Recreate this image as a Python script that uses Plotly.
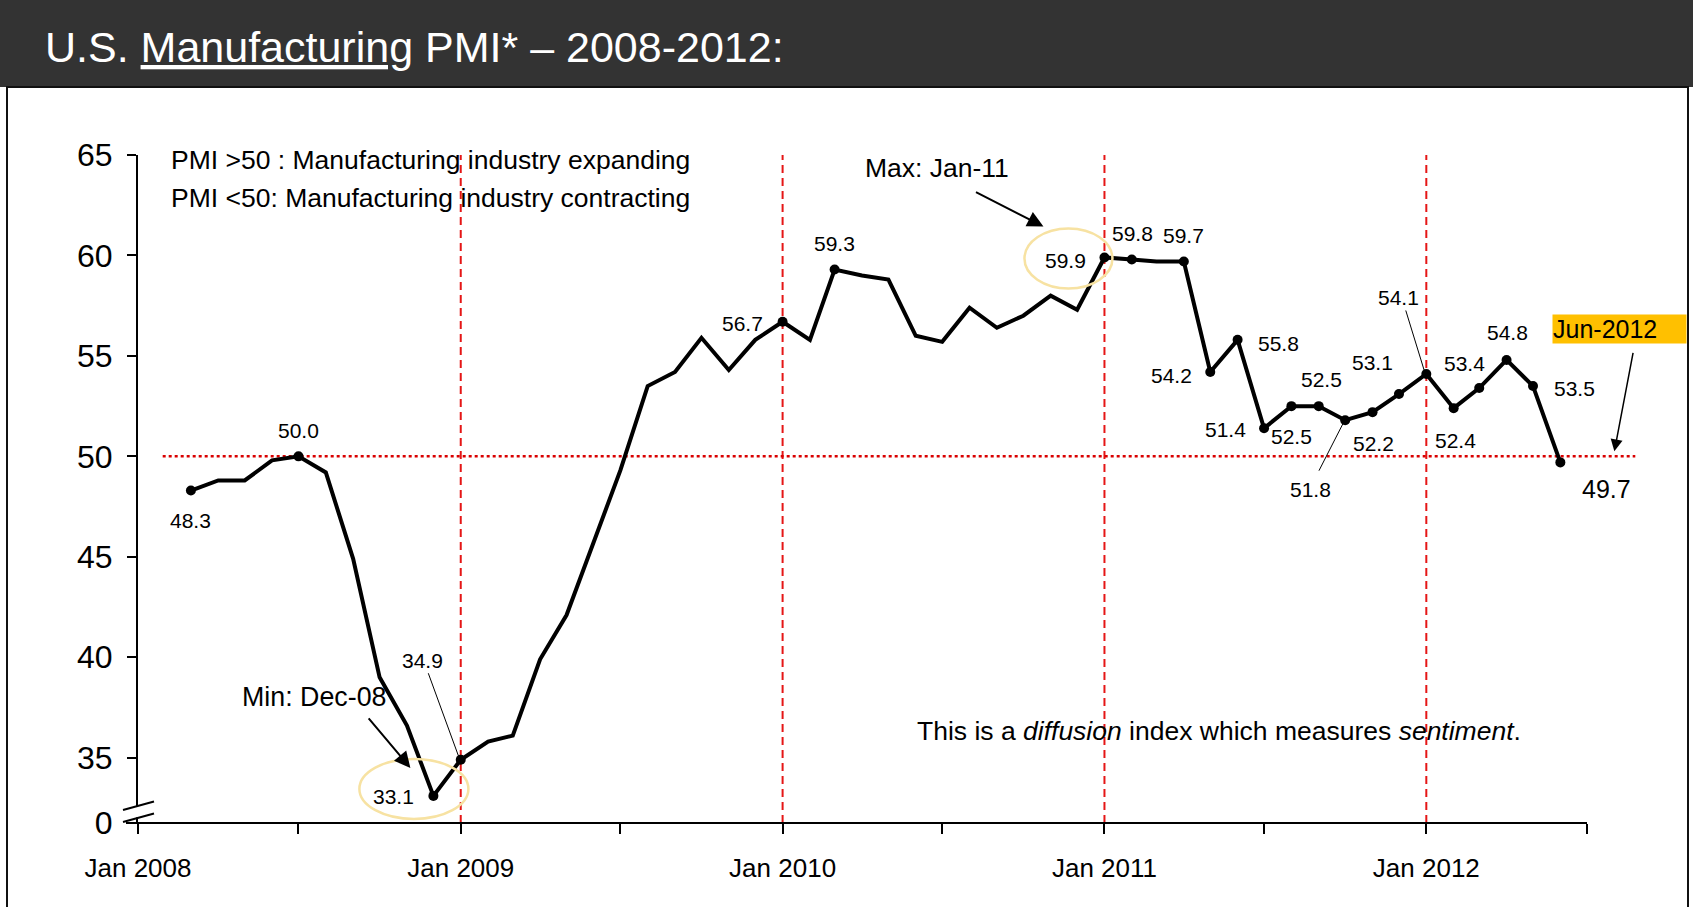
import plotly.graph_objects as go

# ---------------- data ----------------
months = [
    "2008-03", "2008-04", "2008-05", "2008-06", "2008-07", "2008-08", "2008-09", "2008-10", "2008-11", "2008-12",
    "2009-01", "2009-02", "2009-03", "2009-04", "2009-05", "2009-06", "2009-07", "2009-08", "2009-09", "2009-10", "2009-11", "2009-12",
    "2010-01", "2010-02", "2010-03", "2010-04", "2010-05", "2010-06", "2010-07", "2010-08", "2010-09", "2010-10", "2010-11", "2010-12",
    "2011-01", "2011-02", "2011-03", "2011-04", "2011-05", "2011-06", "2011-07", "2011-08", "2011-09", "2011-10", "2011-11", "2011-12",
    "2012-01", "2012-02", "2012-03", "2012-04", "2012-05", "2012-06",
]
pmi = [
    48.3, 48.8, 48.8, 49.8, 50.0, 49.2, 44.9, 39.0, 36.6, 33.1,
    34.9, 35.8, 36.1, 39.9, 42.1, 45.8, 49.3, 53.5, 54.2, 55.9, 54.3, 55.8,
    56.7, 55.8, 59.3, 59.0, 58.8, 56.0, 55.7, 57.4, 56.4, 57.0, 58.0, 57.3,
    59.9, 59.8, 59.7, 59.7, 54.2, 55.8, 51.4, 52.5, 52.5, 51.8, 52.2, 53.1,
    54.1, 52.4, 53.4, 54.8, 53.5, 49.7,
]
marked_months = [
    "2008-03", "2008-07", "2008-12", "2009-01", "2010-01", "2010-03",
    "2011-01", "2011-02", "2011-04", "2011-05", "2011-06", "2011-07", "2011-08", "2011-09",
    "2011-10", "2011-11", "2011-12", "2012-01", "2012-02", "2012-03", "2012-04", "2012-05", "2012-06",
]
year_lines = ["2009-01", "2010-01", "2011-01", "2012-01"]
x_tick_months = ["2008-01", "2008-07", "2009-01", "2009-07", "2010-01", "2010-07",
                 "2011-01", "2011-07", "2012-01", "2012-07"]
x_tick_labels = ["Jan 2008", "", "Jan 2009", "", "Jan 2010", "", "Jan 2011", "", "Jan 2012", ""]
y_break_value = 31.75          # bottom of the broken axis, shown as "0"
y_tick_values = [35, 40, 45, 50, 55, 60, 65]
threshold = 50

title_text = "U.S. <u>Manufacturing</u> PMI* – 2008-2012:"
note_lines = ["PMI >50 : Manufacturing industry expanding",
              "PMI <50: Manufacturing industry contracting"]
footnote = "This is a <i>diffusion</i> index which measures <i>sentiment</i>."

# ---------------- layout geometry (pixels) ----------------
W, H = 1693, 907
L, R, T, B = 138, 48, 155, 84
PW, PH = W - L - R, H - T - B
x_range = ["2008-01-01", "2012-09-05"]
FONT = "Arial, Liberation Sans, sans-serif"


def xp(px):
    return (px - L) / PW


def yp(py):
    return (H - B - py) / PH


val = dict(zip(months, pmi))

fig = go.Figure()
fig.add_trace(go.Scatter(x=months, y=pmi, mode="lines",
                         line=dict(color="black", width=4), hoverinfo="skip"))
fig.add_trace(go.Scatter(x=marked_months, y=[val[m] for m in marked_months], mode="markers",
                         marker=dict(color="black", size=10), hoverinfo="skip"))

shapes = []
# title bar and frame
shapes.append(dict(type="rect", xref="paper", yref="paper", x0=xp(0), x1=xp(W), y0=yp(0), y1=yp(87),
                   fillcolor="#333333", line=dict(width=0), layer="below"))
shapes.append(dict(type="rect", xref="paper", yref="paper", x0=xp(7), x1=xp(1688), y0=yp(87), y1=yp(930),
                   fillcolor="rgba(0,0,0,0)", line=dict(color="#111111", width=2)))
# yearly dashed lines
for m in year_lines:
    shapes.append(dict(type="line", xref="x", yref="y", x0=m, x1=m, y0=y_break_value, y1=65,
                       line=dict(color="#E51616", width=2, dash="8px,5px"), layer="below"))
# 50 threshold line
shapes.append(dict(type="line", xref="x", yref="y", x0="2008-01-29", x1="2012-08-25",
                   y0=threshold, y1=threshold, line=dict(color="#D90000", width=2.5, dash="dot"),
                   layer="below"))
# x axis line
shapes.append(dict(type="line", xref="paper", yref="paper", x0=xp(126), x1=xp(1587),
                   y0=0, y1=0, line=dict(color="black", width=2)))
# axis break marks
shapes.append(dict(type="path", xref="paper", yref="paper",
                   path=f"M {xp(123)} {yp(810)} L {xp(153)} {yp(802)} L {xp(153)} {yp(813)} L {xp(123)} {yp(821)} Z",
                   fillcolor="white", line=dict(width=0), layer="above"))
shapes.append(dict(type="line", xref="paper", yref="paper", x0=xp(123), x1=xp(154), y0=yp(810), y1=yp(801.5),
                   line=dict(color="black", width=2)))
shapes.append(dict(type="line", xref="paper", yref="paper", x0=xp(123), x1=xp(154), y0=yp(822), y1=yp(813.5),
                   line=dict(color="black", width=2)))
# highlight ellipses (pixel-sized, anchored on the min / max points)
for m, x0, x1, y0, y1 in [("2008-12", -74, 35, -23, 37), ("2011-01", -80, 8, -31, 29)]:
    shapes.append(dict(type="circle", xref="x", yref="y", xsizemode="pixel", ysizemode="pixel",
                       xanchor=m, yanchor=val[m], x0=x0, x1=x1, y0=y0, y1=y1,
                       line=dict(color="#F7E2A2", width=2.5)))

annotations = []
# title
annotations.append(dict(text=title_text, xref="paper", yref="paper", x=xp(43), y=yp(47),
                        xanchor="left", yanchor="middle", showarrow=False,
                        font=dict(family=FONT, size=43, color="white")))
for i, t in enumerate(note_lines):
    annotations.append(dict(text=t, xref="paper", yref="paper", x=xp(169), y=yp(160 + 38.5 * i),
                            xanchor="left", yanchor="middle", showarrow=False,
                            font=dict(family=FONT, size=26.5, color="black")))
annotations.append(dict(text=footnote, xref="paper", yref="paper", x=xp(915), y=yp(731),
                        xanchor="left", yanchor="middle", showarrow=False,
                        font=dict(family=FONT, size=26.5, color="black")))
annotations.append(dict(text="Min: Dec-08", xref="paper", yref="paper", x=xp(314), y=yp(697),
                        xanchor="center", yanchor="middle", showarrow=False,
                        font=dict(family=FONT, size=26.8, color="black")))
annotations.append(dict(text="Max: Jan-11", xref="paper", yref="paper", x=xp(937), y=yp(168),
                        xanchor="center", yanchor="middle", showarrow=False,
                        font=dict(family=FONT, size=26.5, color="black")))
annotations.append(dict(text="Jun-2012", xref="paper", yref="paper", x=xp(1552), y=yp(329),
                        xanchor="left", yanchor="middle", showarrow=False, width=133, height=28,
                        align="left", bgcolor="#FFC000", borderpad=0,
                        font=dict(family=FONT, size=25, color="black")))

# data labels: (month, dx, dy, size)
label_pos = [
    ("2008-03", 0, -30, 21), ("2008-07", 0, 26, 21), ("2008-12", -40, -1, 21), ("2009-01", -38, 99, 21),
    ("2010-01", -40, -2, 21), ("2010-03", 0, 26, 21), ("2011-01", -39, -3, 21), ("2011-02", 1, 26, 21),
    ("2011-04", 0, 26, 21), ("2011-05", -39, -4, 21), ("2011-06", 41, -4, 21), ("2011-07", -39, -1, 21),
    ("2011-08", 0, -30, 21), ("2011-09", 3, 27, 21), ("2011-10", -35, -69, 21), ("2011-11", 1, -31, 21),
    ("2011-12", -26, 32, 21), ("2012-01", -28, 76, 21), ("2012-02", 2, -32, 21), ("2012-03", -15, 25, 21),
    ("2012-04", 1, 27, 21), ("2012-05", 41, -2, 21), ("2012-06", 46, -27, 25),
]
for m, dx, dy, sz in label_pos:
    annotations.append(dict(text=f"{val[m]:.1f}", x=m, y=val[m], xref="x", yref="y",
                            xshift=dx, yshift=dy, showarrow=False, xanchor="center", yanchor="middle",
                            font=dict(family=FONT, size=sz, color="black")))

# arrows: (month, yvalue, xshift, yshift, ax, ay, head, width)
arrows = [
    ("2008-12", val["2008-12"], -23, 28, -43, -51, 2, 2),
    ("2011-01", val["2011-01"], -61, 31, -69, -35, 2, 2),
    ("2012-06", threshold, 54, 5, 19, -100, 2, 1.5),
    ("2009-01", val["2009-01"], -2, 3, -31, -85, 0, 1),
    ("2011-10", val["2011-10"], -2, -3, -25, 49, 0, 1),
    ("2012-01", val["2012-01"], -1, 0, -20, -65, 0, 1),
]
for m, yv, dx, dy, ax, ay, head, w in arrows:
    annotations.append(dict(text="", x=m, y=yv, xref="x", yref="y", xshift=dx, yshift=dy,
                            showarrow=True, ax=ax, ay=ay, axref="pixel", ayref="pixel",
                            arrowhead=head, arrowsize=1.6 if head else 1, arrowwidth=w,
                            arrowcolor="black", standoff=0, startstandoff=0))

fig.update_layout(
    template="none",
    width=W, height=H, autosize=False,
    margin=dict(l=L, r=R, t=T, b=B, pad=0),
    paper_bgcolor="white", plot_bgcolor="white",
    showlegend=False, hovermode=False,
    shapes=shapes, annotations=annotations,
    font=dict(family=FONT, color="black"),
    xaxis=dict(type="date", range=x_range, showgrid=False, zeroline=False, showline=False,
               tickmode="array", tickvals=x_tick_months, ticktext=x_tick_labels,
               ticks="outside", ticklen=10, tickwidth=2, tickcolor="black",
               ticklabelstandoff=12, tickfont=dict(family=FONT, size=26, color="black"),
               automargin=False, fixedrange=True),
    yaxis=dict(range=[y_break_value, 65], showgrid=False, zeroline=False, showline=True,
               linecolor="black", linewidth=2, tickmode="array",
               tickvals=[y_break_value] + y_tick_values,
               ticktext=["0"] + [str(v) for v in y_tick_values],
               ticks="outside", ticklen=9, tickwidth=2, tickcolor="black",
               ticklabelstandoff=8, tickfont=dict(family=FONT, size=32, color="black"),
               automargin=False, fixedrange=True),
)

fig.write_html("out.html", config={"displayModeBar": False},
               post_script="document.body.style.margin='0';document.body.style.overflow='hidden';")
